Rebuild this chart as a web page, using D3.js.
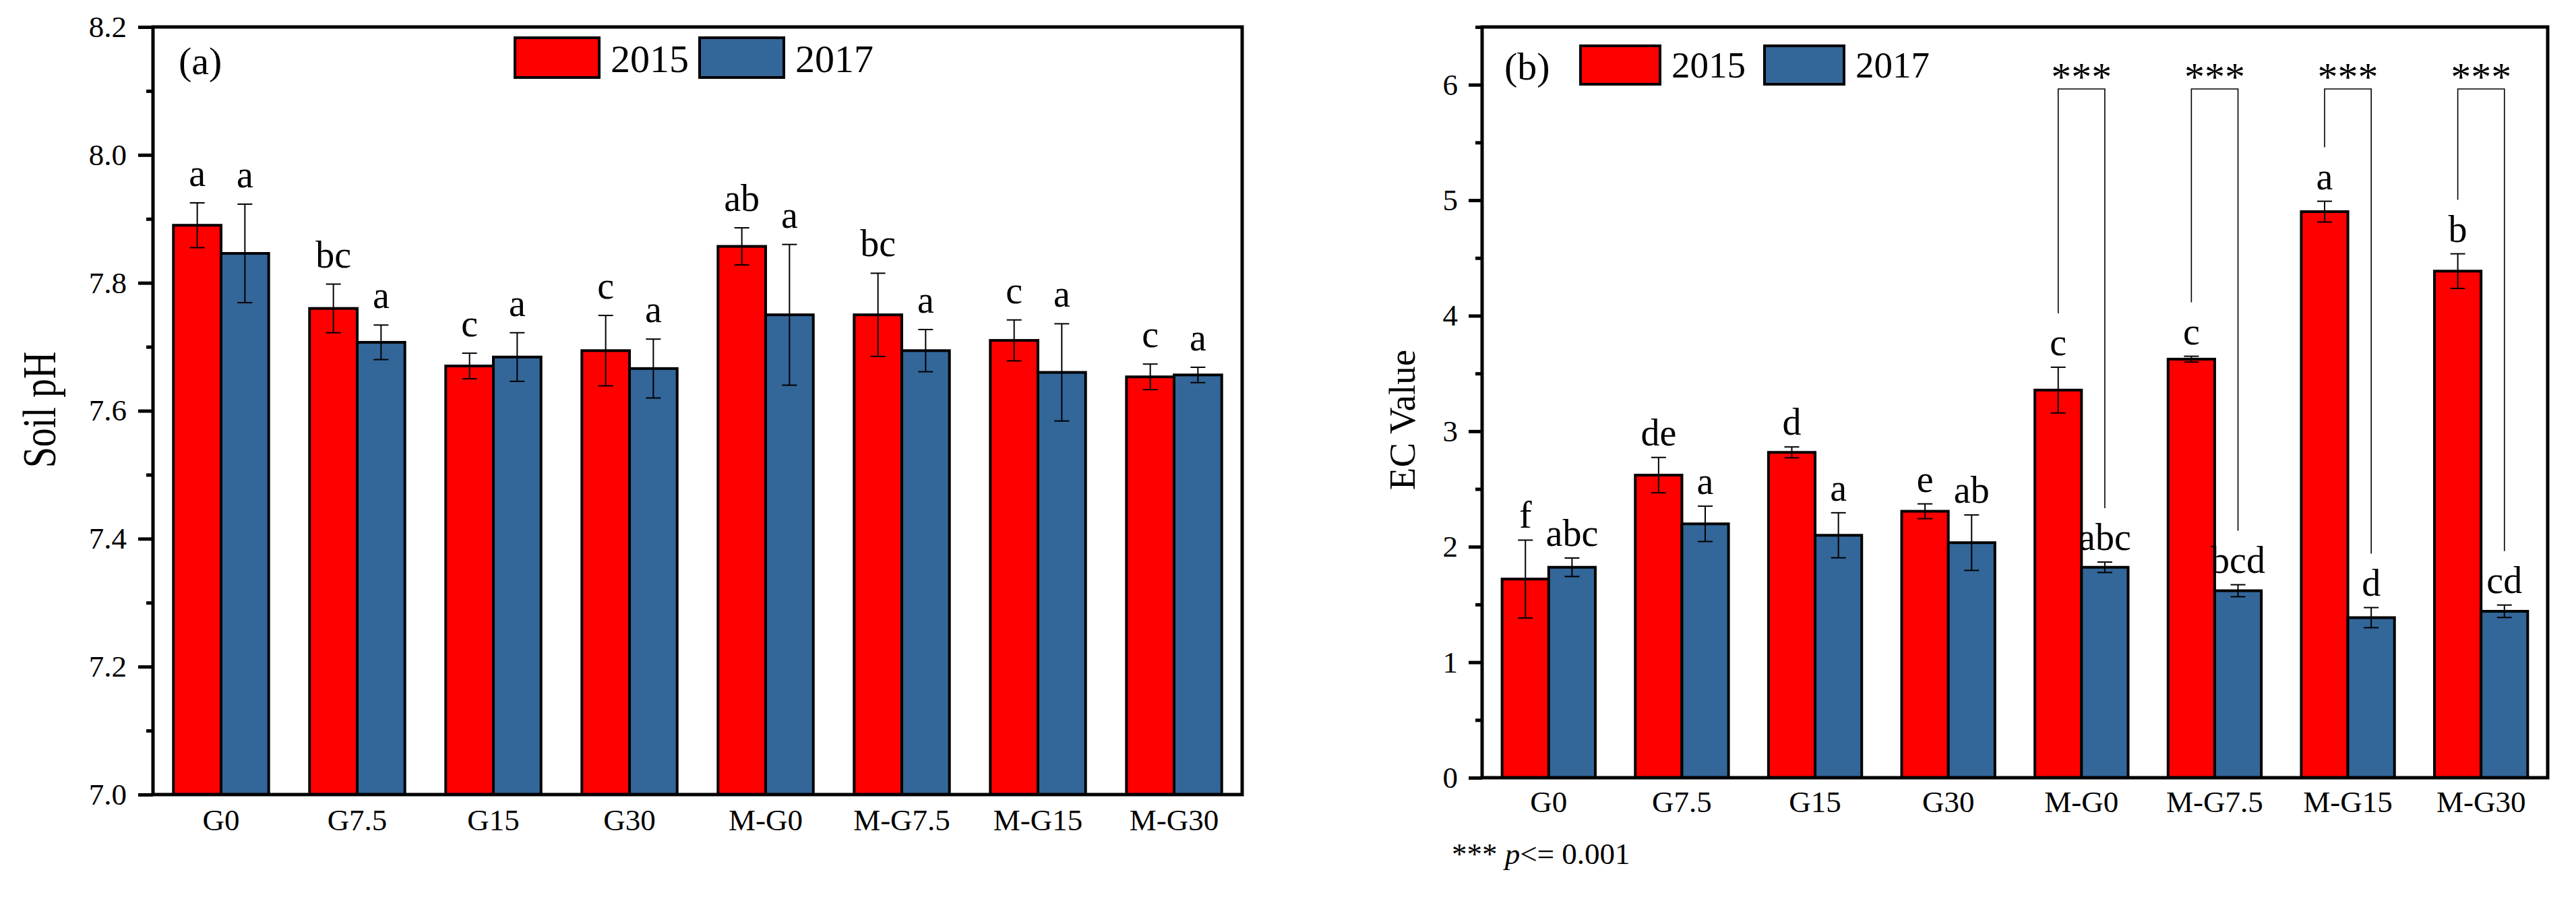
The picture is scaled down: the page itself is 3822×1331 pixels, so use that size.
<!DOCTYPE html>
<html>
<head>
<meta charset="utf-8">
<script src="https://cdn.jsdelivr.net/npm/d3@7"></script>
<style>
  body { margin: 0; background: #fff; }
  svg text { font-family: "Liberation Serif", "Times New Roman", serif; fill: #000; }
</style>
</head>
<body>
<svg id="chart" width="3822" height="1331"></svg>
<script>
// categories and series
const categories = ['G0', 'G7.5', 'G15', 'G30', 'M-G0', 'M-G7.5', 'M-G15', 'M-G30'];
const years = ['2015', '2017'];
const yearColors = ['#ff0000', '#336699'];

// (a) soil pH
const ph2015 = [7.89, 7.76, 7.67, 7.694, 7.857, 7.75, 7.71, 7.653];
const ph2015Err = [0.035, 0.038, 0.02, 0.055, 0.029, 0.065, 0.032, 0.02];
const ph2017 = [7.846, 7.707, 7.684, 7.666, 7.75, 7.694, 7.66, 7.656];
const ph2017Err = [0.077, 0.027, 0.038, 0.046, 0.11, 0.033, 0.076, 0.012];
const phLetters2015 = ['a', 'bc', 'c', 'c', 'ab', 'bc', 'c', 'c'];
const phLetters2017 = ['a', 'a', 'a', 'a', 'a', 'a', 'a', 'a'];
const phTicks = [7.0, 7.2, 7.4, 7.6, 7.8, 8.0, 8.2];
const phMinorTicks = [7.1, 7.3, 7.5, 7.7, 7.9, 8.1];

// (b) EC value
const ec2015 = [1.72, 2.62, 2.817, 2.307, 3.356, 3.624, 4.901, 4.386];
const ec2015Err = [0.337, 0.153, 0.047, 0.064, 0.198, 0.025, 0.09, 0.15];
const ec2017 = [1.822, 2.198, 2.099, 2.035, 1.822, 1.619, 1.386, 1.441];
const ec2017Err = [0.08, 0.153, 0.195, 0.24, 0.045, 0.052, 0.087, 0.054];
const ecLetters2015 = ['f', 'de', 'd', 'e', 'c', 'c', 'a', 'b'];
const ecLetters2017 = ['abc', 'a', 'a', 'ab', 'abc', 'bcd', 'd', 'cd'];
const ecTicks = [0, 1, 2, 3, 4, 5, 6];
const ecMinorTicks = [0.5, 1.5, 2.5, 3.5, 4.5, 5.5, 6.5];
const ecSignificant = ['M-G0', 'M-G7.5', 'M-G15', 'M-G30'];

const svg = d3.select('#chart');

function drawPanel(p) {
	const g = svg.append('g');

	const y = d3.scaleLinear().domain(p.domain).range([p.bottom, p.top]);
	const x0 = d3.scaleBand().domain(categories).range([p.left, p.right])
		.paddingInner(0.3).paddingOuter(0.15);
	const x1 = d3.scaleBand().domain(years).range([0, x0.bandwidth()]);

	// rows: one per category and year
	const rows = [];
	categories.forEach((c, i) => {
		years.forEach((yr, j) => {
			rows.push({
				cat: c, year: yr, color: yearColors[j],
				value: p.values[j][i], err: p.errors[j][i], letter: p.letters[j][i]
			});
		});
	});
	const cx = (d) => x0(d.cat) + x1(d.year) + x1.bandwidth() / 2;

	// bars
	g.selectAll('rect.bar').data(rows).join('rect')
		.attr('class', 'bar')
		.attr('x', (d) => x0(d.cat) + x1(d.year))
		.attr('width', x1.bandwidth())
		.attr('y', (d) => y(d.value))
		.attr('height', (d) => p.bottom - y(d.value))
		.attr('fill', (d) => d.color)
		.attr('stroke', '#000')
		.attr('stroke-width', 4);

	// error bars
	const eb = g.selectAll('g.err').data(rows).join('g').attr('class', 'err')
		.attr('stroke', '#000').attr('stroke-width', 2);
	eb.append('line')
		.attr('x1', cx).attr('x2', cx)
		.attr('y1', (d) => y(d.value + d.err)).attr('y2', (d) => y(d.value - d.err));
	eb.append('line')
		.attr('x1', (d) => cx(d) - 11).attr('x2', (d) => cx(d) + 11)
		.attr('y1', (d) => y(d.value + d.err)).attr('y2', (d) => y(d.value + d.err));
	eb.append('line')
		.attr('x1', (d) => cx(d) - 11).attr('x2', (d) => cx(d) + 11)
		.attr('y1', (d) => y(d.value - d.err)).attr('y2', (d) => y(d.value - d.err));

	// letters of significance
	g.selectAll('text.letter').data(rows).join('text')
		.attr('class', 'letter')
		.attr('x', cx)
		.attr('y', (d) => y(d.value + d.err) - p.letterGap)
		.attr('text-anchor', 'middle')
		.attr('font-size', 56)
		.text((d) => d.letter);

	// brackets with ***
	if (p.significant) {
		const pairs = p.significant.map((c) => {
			const i = categories.indexOf(c);
			return {
				cat: c,
				a: rows.find((r) => r.cat === c && r.year === years[0]),
				b: rows.find((r) => r.cat === c && r.year === years[1])
			};
		});
		const br = g.selectAll('g.bracket').data(pairs).join('g').attr('class', 'bracket');
		br.append('path')
			.attr('fill', 'none').attr('stroke', '#000').attr('stroke-width', 1.6)
			.attr('d', (d) => {
				const xa = cx(d.a), xb = cx(d.b);
				return `M${xa},${y(d.a.value + d.a.err) - 80}V${p.bracketY}H${xb}V${y(d.b.value + d.b.err) - 80}`;
			});
		br.append('text')
			.attr('x', (d) => (cx(d.a) + cx(d.b)) / 2)
			.attr('y', p.bracketY + 2)
			.attr('text-anchor', 'middle')
			.attr('font-size', 60)
			.text('***');
	}

	// minor ticks
	g.append('g')
		.attr('transform', `translate(${p.left},0)`)
		.call(d3.axisLeft(y).tickValues(p.minorTicks).tickSize(10).tickFormat(''))
		.call((a) => a.select('.domain').remove())
		.call((a) => a.selectAll('line').attr('stroke-width', 5));

	// major ticks and labels
	g.append('g')
		.attr('transform', `translate(${p.left},0)`)
		.call(d3.axisLeft(y).tickValues(p.ticks).tickSize(p.tickLen).tickPadding(p.tickPad)
			.tickFormat(p.format))
		.call((a) => a.select('.domain').remove())
		.call((a) => a.selectAll('line').attr('stroke-width', 5))
		.call((a) => a.selectAll('text').attr('font-size', 45).attr('font-family', null));

	// category labels
	g.append('g')
		.attr('transform', `translate(0,${p.bottom})`)
		.call(d3.axisBottom(x0).tickSize(0))
		.call((a) => a.select('.domain').remove())
		.call((a) => a.selectAll('text')
			.attr('font-size', 45).attr('font-family', null)
			.attr('dy', null).attr('y', p.catOffset));

	// frame
	g.append('rect')
		.attr('x', p.left).attr('y', p.top)
		.attr('width', p.right - p.left).attr('height', p.bottom - p.top)
		.attr('fill', 'none').attr('stroke', '#000').attr('stroke-width', 5);

	// panel tag
	g.append('text').attr('x', p.tagX).attr('y', p.tagY)
		.attr('font-size', 58).text(p.tag);

	// legend
	const lg = g.selectAll('g.legend').data(years).join('g').attr('class', 'legend')
		.attr('transform', (d, i) => `translate(${p.legendX + i * p.legendStep},${p.legendY})`);
	lg.append('rect')
		.attr('x', 2).attr('y', 2)
		.attr('width', p.legendW - 4).attr('height', p.legendH - 4)
		.attr('fill', (d, i) => yearColors[i])
		.attr('stroke', '#000').attr('stroke-width', 4);
	lg.append('text')
		.attr('x', p.legendW + 15).attr('y', p.legendTextY)
		.attr('font-size', p.legendFont)
		.text((d) => d);

	// y title
	g.append('text')
		.attr('transform', p.titleTransform)
		.attr('text-anchor', 'middle')
		.attr('font-size', p.titleFont)
		.text(p.title);
}

drawPanel({
	left: 227, right: 1843, top: 40, bottom: 1179,
	domain: [7.0, 8.2],
	values: [ph2015, ph2017], errors: [ph2015Err, ph2017Err], letters: [phLetters2015, phLetters2017],
	ticks: phTicks, minorTicks: phMinorTicks, format: d3.format('.1f'),
	tickLen: 22, tickPad: 17, catOffset: 53, letterGap: 25,
	tag: '(a)', tagX: 265, tagY: 110,
	legendX: 762, legendY: 54, legendStep: 274, legendW: 129, legendH: 63,
	legendTextY: 53, legendFont: 58,
	title: 'Soil pH', titleFont: 70,
	titleTransform: 'translate(82,608) rotate(-90) scale(0.8,1)'
});

drawPanel({
	left: 2199, right: 3780, top: 40, bottom: 1154,
	domain: [0, 6.5],
	values: [ec2015, ec2017], errors: [ec2015Err, ec2017Err], letters: [ecLetters2015, ecLetters2017],
	ticks: ecTicks, minorTicks: ecMinorTicks, format: d3.format('d'),
	tickLen: 20, tickPad: 16, catOffset: 51, letterGap: 18,
	significant: ecSignificant, bracketY: 132,
	tag: '(b)', tagX: 2232, tagY: 118,
	legendX: 2343, legendY: 66, legendStep: 273, legendW: 122, legendH: 61,
	legendTextY: 49, legendFont: 55,
	title: 'EC Value', titleFont: 55,
	titleTransform: 'translate(2099,623) rotate(-90)'
});

// footnote
const note = svg.append('text').attr('x', 2154).attr('y', 1282).attr('font-size', 45);
note.append('tspan').text('*** ');
note.append('tspan').attr('font-style', 'italic').text('p');
note.append('tspan').text('<= 0.001');
</script>
</body>
</html>
